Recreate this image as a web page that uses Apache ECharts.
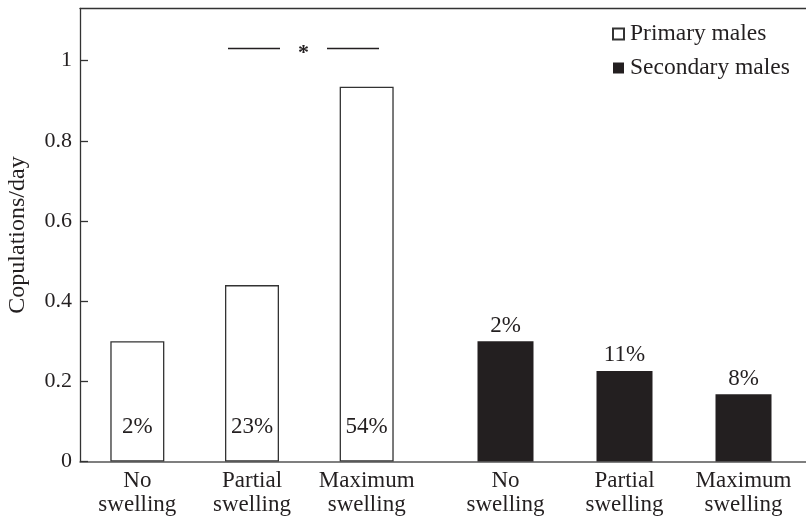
<!DOCTYPE html>
<html>
<head>
<meta charset="utf-8">
<script src="https://cdn.jsdelivr.net/npm/echarts@6/dist/echarts.min.js"></script>
<style>
  html, body { margin: 0; padding: 0; background: #fff; }
  #chart { width: 806px; height: 518px; }
</style>
</head>
<body>
<div id="chart"></div>
<script>
const categories = ["No\nswelling", "Partial\nswelling", "Maximum\nswelling"];
const primaryValues = [0.30, 0.44, 0.935];
const secondaryValues = [0.30, 0.226, 0.168];
const primaryPct = ["2%", "23%", "54%"];
const secondaryPct = ["2%", "11%", "8%"];
const yTicks = [0, 0.2, 0.4, 0.6, 0.8, 1];

const font = "Liberation Serif";
const dark = "#231f20";
const yMax = 1.13;

const chart = echarts.init(document.getElementById("chart"));

const fmtTick = (v) => (yTicks.includes(+v.toFixed(2)) ? String(+v.toFixed(2)) : "");

const option = {
  animation: false,
  textStyle: { fontFamily: font, color: dark },
  legend: {
    orient: "vertical",
    left: 607,
    top: 17,
    itemWidth: 11,
    itemHeight: 11,
    itemGap: 10,
    icon: "rect",
    textStyle: { fontFamily: font, fontSize: 23.5, color: dark, padding: [0, 0, 0, 1] },
    data: ["Primary males", "Secondary males"]
  },
  grid: [
    // frame: top line + baseline across the whole width
    { left: 80, top: 8.5, right: -2, bottom: 56.5 },
    { left: 80, top: 8.5, width: 344, bottom: 56.5 },
    { left: 446, top: 8.5, width: 357, bottom: 56.5 }
  ],
  xAxis: [
    {
      gridIndex: 0, type: "value", min: 0, max: 1, position: "bottom",
      axisLine: { show: true, lineStyle: { color: "#555", width: 1.5 } },
      axisTick: { show: false }, axisLabel: { show: false }, splitLine: { show: false }
    },
    {
      gridIndex: 0, type: "value", min: 0, max: 1, position: "top",
      axisLine: { show: true, lineStyle: { color: "#333", width: 1.3 } },
      axisTick: { show: false }, axisLabel: { show: false }, splitLine: { show: false }
    },
    {
      gridIndex: 1, type: "category", data: categories,
      axisLine: { show: false }, axisTick: { show: false },
      axisLabel: { fontFamily: font, fontSize: 23, color: dark, lineHeight: 23.5, margin: 8, interval: 0 }
    },
    {
      gridIndex: 2, type: "category", data: categories,
      axisLine: { show: false }, axisTick: { show: false },
      axisLabel: { fontFamily: font, fontSize: 23, color: dark, lineHeight: 23.5, margin: 8, interval: 0 }
    }
  ],
  yAxis: [
    { gridIndex: 0, type: "value", min: 0, max: yMax, show: false },
    {
      gridIndex: 1, type: "value", min: 0, max: yMax, interval: 0.2,
      name: "Copulations/day", nameLocation: "middle", nameGap: 50,
      nameTextStyle: { fontFamily: font, fontSize: 24, color: dark },
      axisLine: { show: true, lineStyle: { color: "#333", width: 1.3 } },
      axisTick: { show: true, inside: true, length: 8, lineStyle: { color: "#333", width: 1.3 } },
      axisLabel: { fontFamily: font, fontSize: 22, color: dark, margin: 8, showMaxLabel: false, formatter: fmtTick },
      splitLine: { show: false }
    },
    { gridIndex: 2, type: "value", min: 0, max: yMax, show: false }
  ],
  series: [
    {
      name: "Primary males",
      type: "bar",
      xAxisIndex: 2,
      yAxisIndex: 1,
      barWidth: 54,
      data: primaryValues,
      itemStyle: { color: "#fff", borderColor: "#333", borderWidth: 1.3 },
      label: {
        show: true, position: "insideBottom", distance: 23,
        fontFamily: font, fontSize: 23, color: dark,
        formatter: (p) => primaryPct[p.dataIndex]
      }
    },
    {
      name: "Secondary males",
      type: "bar",
      xAxisIndex: 3,
      yAxisIndex: 2,
      barWidth: 56,
      data: secondaryValues,
      itemStyle: { color: dark },
      label: {
        show: true, position: "top", distance: 4,
        fontFamily: font, fontSize: 23, color: dark,
        formatter: (p) => secondaryPct[p.dataIndex]
      }
    }
  ],
  graphic: [
    { type: "line", shape: { x1: 228, y1: 48.5, x2: 280, y2: 48.5 }, style: { stroke: dark, lineWidth: 1.3 } },
    { type: "line", shape: { x1: 327, y1: 48.5, x2: 379, y2: 48.5 }, style: { stroke: dark, lineWidth: 1.3 } },
    {
      type: "text", x: 303.5, y: 53, style: {
        text: "*", font: "bold 22px " + font, fill: dark, align: "center", verticalAlign: "middle"
      }
    }
  ]
};

chart.setOption(option);
</script>
</body>
</html>
